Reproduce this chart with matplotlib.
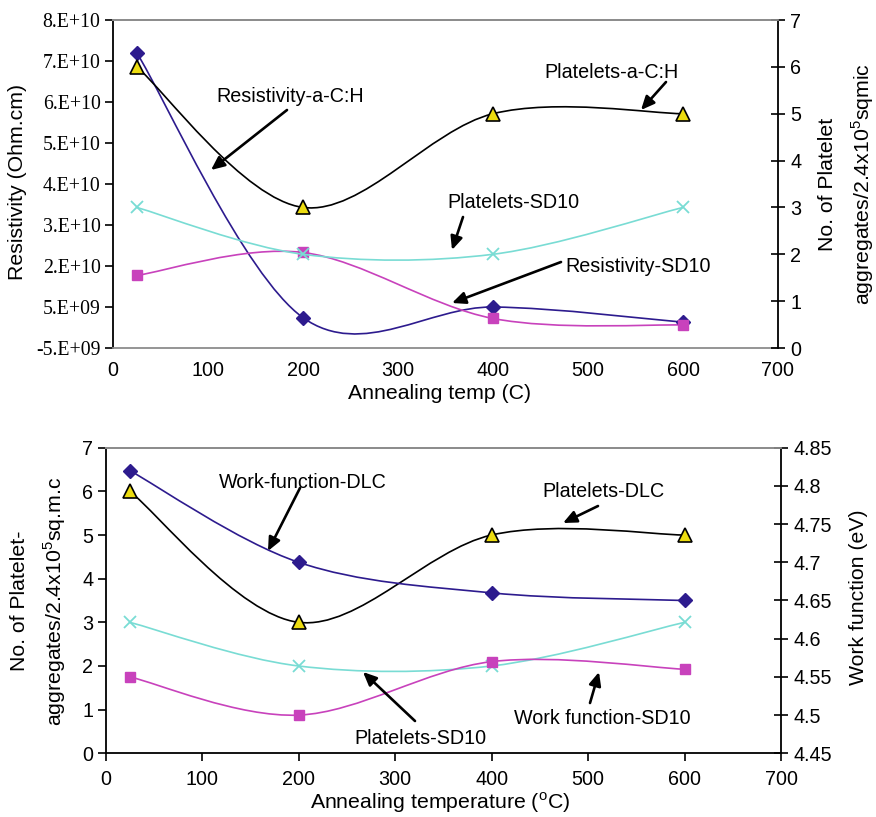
import numpy as np
import matplotlib
matplotlib.use("Agg")
import matplotlib.pyplot as plt
from matplotlib.path import Path
from matplotlib.patches import PathPatch, FancyArrowPatch

plt.rcParams['font.family'] = ['Liberation Sans', 'DejaVu Sans']
plt.rcParams['mathtext.fontset'] = 'custom'
plt.rcParams['mathtext.rm'] = 'Liberation Sans'

# ---- data -------------------------------------------------------------
temps = [25, 200, 400, 600]

# upper panel
resist_ach = [6.7e10, 2.4e9, 5.0e9, 1.3e9]       # Ohm.cm
resist_sd10 = [1.27e10, 1.83e10, 2.2e9, 0.6e9]   # Ohm.cm
plate_ach = [6, 3, 5, 5]
plate_sd10_top = [3, 2, 2, 3]

# lower panel
plate_dlc = [6, 3, 5, 5]
plate_sd10_bot = [3, 2, 2, 3]
wf_dlc = [4.82, 4.70, 4.66, 4.65]                 # eV
wf_sd10 = [4.55, 4.50, 4.57, 4.56]                # eV

x_ticks = [0, 100, 200, 300, 400, 500, 600, 700]
res_ticks = [-5e9, 5e9, 1.5e10, 2.5e10, 3.5e10, 4.5e10, 5.5e10, 6.5e10, 7.5e10]
res_tick_labels = ['-5.E+09', '5.E+09', '2.E+10', '3.E+10', '4.E+10',
                   '5.E+10', '6.E+10', '7.E+10', '8.E+10']
plate_ticks = [0, 1, 2, 3, 4, 5, 6, 7]
wf_ticks = [4.45, 4.5, 4.55, 4.6, 4.65, 4.7, 4.75, 4.8, 4.85]
wf_tick_labels = ['4.45', '4.5', '4.55', '4.6', '4.65', '4.7', '4.75', '4.8', '4.85']

# ---- style ------------------------------------------------------------
NAVY = '#2d1b8e'
MAGENTA = '#c842bc'
CYAN = '#79dcd4'
YELLOW = '#ecdc10'
FS = 14.2        # tick labels
FS_NOTE = 14.2   # curve annotations
FS_LAB = 15.3    # axis titles
W, H = 876, 817


def fp(px, py):
    """figure-pixel (top-left origin) to figure fraction"""
    return (px / W, 1 - py / H)


def smooth_line(ax, xs, ys, color, lw=1.2):
    """Bezier-smoothed polyline through the points (spreadsheet-style)."""
    pts = np.column_stack([xs, ys]).astype(float)
    n = len(pts)
    verts = [pts[0]]
    codes = [Path.MOVETO]
    for i in range(n - 1):
        p0 = pts[i - 1] if i > 0 else pts[i]
        p1 = pts[i]
        p2 = pts[i + 1]
        p3 = pts[i + 2] if i + 2 < n else pts[i + 1]
        c1 = p1 + (p2 - p0) / 6.0
        c2 = p2 - (p3 - p1) / 6.0
        verts += [c1, c2, p2]
        codes += [Path.CURVE4] * 3
    ax.add_patch(PathPatch(Path(verts, codes), fill=False, edgecolor=color,
                           lw=lw, zorder=3))


def series(ax, xs, ys, color, marker, ms, mfc, mec, mew=1.0):
    smooth_line(ax, xs, ys, color)
    ax.plot(xs, ys, linestyle='none', marker=marker, ms=ms, mfc=mfc,
            mec=mec, mew=mew, zorder=4, clip_on=False)


def arrow(fig, start, end):
    fig.add_artist(FancyArrowPatch(
        fp(*start), fp(*end), transform=fig.transFigure,
        arrowstyle='-|>,head_length=8,head_width=3.6', color='black',
        lw=1.9, shrinkA=0, shrinkB=0))


def frame(ax, axr, bottom_black):
    ax.spines['top'].set_color('#8c8c8c')
    axr.spines['top'].set_color('#8c8c8c')
    ax.spines['bottom'].set_color('black' if bottom_black else '#8c8c8c')
    axr.spines['bottom'].set_visible(False)
    ax.spines['right'].set_visible(False)
    axr.spines['left'].set_visible(False)
    for a in (ax, axr):
        for s in a.spines.values():
            s.set_linewidth(1.3)
    ax.tick_params(axis='y', direction='out', length=6, width=1.2, labelsize=FS, pad=3)
    axr.tick_params(axis='y', direction='inout', length=10, width=1.2, labelsize=FS, pad=4)
    if bottom_black:
        ax.tick_params(axis='x', direction='out', length=6, width=1.2, labelsize=FS, pad=6)
    else:
        ax.tick_params(axis='x', length=0, labelsize=FS, pad=9)


fig = plt.figure(figsize=(W / 100, H / 100), dpi=100)

# ---- upper panel ------------------------------------------------------
ax1 = fig.add_axes([113 / W, 1 - 348 / H, (778 - 113) / W, (348 - 20) / H])
ax1r = ax1.twinx()
ax1.set_xlim(0, 700)
ax1.set_ylim(-5e9, 7.5e10)
ax1r.set_ylim(0, 7)
ax1.set_xticks(x_ticks)
ax1.set_yticks(res_ticks)
ax1.set_yticklabels(res_tick_labels, fontfamily='Liberation Serif', fontsize=FS)
ax1r.set_yticks(plate_ticks)
frame(ax1, ax1r, bottom_black=False)

series(ax1, temps, resist_ach, NAVY, 'D', 7.5, NAVY, NAVY)
series(ax1, temps, resist_sd10, MAGENTA, 's', 7.5, MAGENTA, MAGENTA)
series(ax1r, temps, plate_ach, 'black', '^', 10, YELLOW, 'black', 1.2)
series(ax1r, temps, plate_sd10_top, CYAN, 'x', 9, CYAN, CYAN, 1.3)

fig.text(*fp(18, 182), 'Resistivity (Ohm.cm)', rotation=90, ha='center',
         va='center', fontsize=FS_LAB)
fig.text(*fp(440, 393), 'Annealing temp (C)', ha='center', va='center',
         fontsize=FS_LAB)
fig.text(*fp(847, 184), 'No. of Platelet\naggregates/2.4x10$^{5}$sqmic',
         rotation=90, ha='center', va='center', fontsize=FS_LAB,
         multialignment='center', linespacing=1.6)

fig.text(*fp(290, 96), 'Resistivity-a-C:H', ha='center', va='center', fontsize=FS_NOTE)
arrow(fig, (287, 110), (211, 170))
fig.text(*fp(612, 72), 'Platelets-a-C:H', ha='center', va='center', fontsize=FS_NOTE)
arrow(fig, (666, 82), (641, 110))
fig.text(*fp(513, 202), 'Platelets-SD10', ha='center', va='center', fontsize=FS_NOTE)
arrow(fig, (463, 217), (452, 250))
fig.text(*fp(638, 267), 'Resistivity-SD10', ha='center', va='center', fontsize=FS_NOTE)
arrow(fig, (561, 262), (452, 303))

# ---- lower panel ------------------------------------------------------
ax2 = fig.add_axes([105.7 / W, 1 - 753.3 / H, (781 - 105.7) / W, (753.3 - 447.7) / H])
ax2r = ax2.twinx()
ax2.set_xlim(0, 700)
ax2.set_ylim(0, 7)
ax2r.set_ylim(4.45, 4.85)
ax2.set_xticks(x_ticks)
ax2.set_yticks(plate_ticks)
ax2r.set_yticks(wf_ticks)
ax2r.set_yticklabels(wf_tick_labels)
frame(ax2, ax2r, bottom_black=True)

series(ax2r, temps, wf_dlc, NAVY, 'D', 7.5, NAVY, NAVY)
series(ax2r, temps, wf_sd10, MAGENTA, 's', 7.5, MAGENTA, MAGENTA)
series(ax2, temps, plate_dlc, 'black', '^', 10, YELLOW, 'black', 1.2)
series(ax2, temps, plate_sd10_bot, CYAN, 'x', 9, CYAN, CYAN, 1.3)

fig.text(*fp(39, 601), 'No. of Platelet-\naggregates/2.4x10$^{5}$sq.m.c',
         rotation=90, ha='center', va='center', fontsize=FS_LAB,
         multialignment='center', linespacing=1.6)
fig.text(*fp(440, 803), 'Annealing temperature ($^{\\mathrm{o}}$C)',
         ha='center', va='center', fontsize=FS_LAB)
fig.text(*fp(858, 597), 'Work function (eV)', rotation=90, ha='center',
         va='center', fontsize=FS_LAB)

fig.text(*fp(303, 482), 'Work-function-DLC', ha='center', va='center', fontsize=FS_NOTE)
arrow(fig, (300, 488), (268, 551))
fig.text(*fp(603, 492), 'Platelets-DLC', ha='center', va='center', fontsize=FS_NOTE)
arrow(fig, (598, 506), (563, 523))
fig.text(*fp(602, 719), 'Work function-SD10', ha='center', va='center', fontsize=FS_NOTE)
arrow(fig, (590, 703), (599, 672))
fig.text(*fp(420, 738), 'Platelets-SD10', ha='center', va='center', fontsize=FS_NOTE)
arrow(fig, (415, 721), (363, 672))

fig.savefig('out.png', dpi=100)
